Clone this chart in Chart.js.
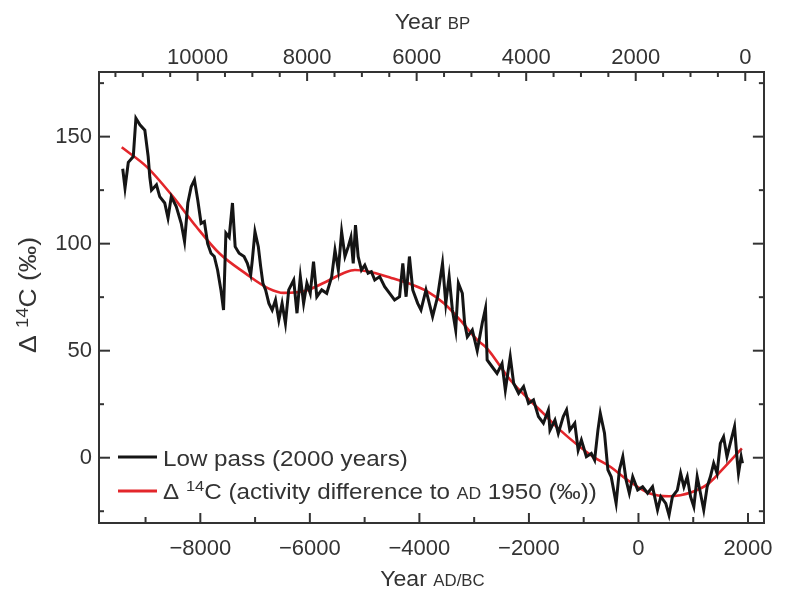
<!DOCTYPE html>
<html><head><meta charset="utf-8">
<script src="https://cdn.jsdelivr.net/npm/chart.js@4.4.1/dist/chart.umd.min.js"></script>
<style>html,body{margin:0;padding:0;background:#fff;}#wrap{width:786px;height:591px;position:relative;}</style>
</head><body><div id="wrap"><canvas id="c" width="786" height="591"></canvas></div>
<script>
// ---- data ----
const lowPassYears = [-9417,-9375,-9315,-9224,-9176,-9103,-9013,-8952,-8922,-8891,-8801,-8741,-8650,-8590,-8530,-8439,-8349,-8288,-8228,-8167,-8107,-8047,-7986,-7926,-7866,-7805,-7745,-7685,-7624,-7576,-7533,-7473,-7413,-7364,-7292,-7201,-7141,-7080,-7050,-7002,-6941,-6898,-6857,-6808,-6748,-6688,-6627,-6567,-6507,-6446,-6386,-6295,-6235,-6174,-6114,-6054,-5993,-5933,-5873,-5783,-5692,-5601,-5541,-5480,-5420,-5359,-5299,-5250,-5208,-5167,-5118,-5058,-4997,-4937,-4877,-4815,-4725,-4634,-4543,-4453,-4362,-4303,-4243,-4182,-4121,-4031,-3971,-3880,-3759,-3668,-3578,-3518,-3457,-3397,-3337,-3288,-3216,-3174,-3125,-3034,-2944,-2853,-2793,-2763,-2672,-2582,-2491,-2431,-2341,-2279,-2188,-2098,-2007,-1917,-1826,-1736,-1645,-1616,-1525,-1464,-1373,-1313,-1254,-1163,-1101,-1042,-951,-861,-801,-740,-697,-620,-558,-498,-408,-348,-286,-226,-167,-105,-14,76,167,257,348,408,498,558,620,710,770,830,891,951,1011,1072,1132,1192,1254,1313,1373,1435,1495,1554,1616,1676,1754,1797,1826,1875,1899];
const lowPassValues = [135,126,138,140.7,158.6,155.5,153,140.7,131,125,127.5,122,119,112,122,117.3,109.5,101,119,126.6,129.8,120.4,109.5,110.3,100,95.5,94,87.7,78.4,69,104.9,103,119,98.6,95.5,94,90.8,85.4,92.4,105.6,98.6,89.3,81.5,78.4,72.1,69,73.7,64.3,72.1,62.8,78.4,83,67.5,84.6,72.1,81.5,76.8,91.6,75.2,78.4,76.8,84.6,97,87.7,105.6,94,98.6,103,90.8,108.7,94,87.7,90,86.2,86.9,83,84.6,79.9,76.8,73.7,75.2,90.8,75.2,94,78.4,72.1,69,78.4,65.9,75.2,90.8,72.1,84.6,69,59.7,81.5,76.8,62.8,56.5,59.7,50,62.8,69.8,45.7,42.5,39.4,44,31.6,47.2,34.8,30.1,33.2,25.4,27,19.2,16.1,22.3,12.9,17.6,11.4,19.2,22.3,12.9,16.1,3.6,8.3,0.5,2,-1.1,12.9,20.7,11.4,-5.7,-8.9,-21.3,-5.7,0.5,-10.4,-16.6,-8.9,-15.1,-13.6,-16.6,-13.6,-24.4,-18.2,-21.3,-26.8,-18.2,-15.1,-7.3,-13.6,-8.9,-18.2,-22.9,-8.9,-16.6,-24.4,-13.6,-8.9,-2.6,-7.3,6.7,9.8,0.5,6.7,14.5,0.5,-7.3,0.5,-2.6];
const smoothYears = [-9435,-8982,-8500,-8076,-7654,-7170,-6748,-6476,-6083,-5721,-5359,-5177,-4937,-4514,-4152,-3850,-3547,-3246,-2944,-2763,-2341,-1736,-1435,-830,-529,-167,196,558,982,1283,1585,1888];
const smoothValues = [145,136,122,108,95.5,86,79,77,78,82,86.5,87.7,87,84,81,77.6,72,64,55,51,36.3,20.7,13,0.5,-4,-11,-16.6,-18,-16,-12,-4,4.4];
const seriesNames = ['Low pass (2000 years)', 'Δ 14C (activity difference to AD 1950 (‰))'];

const bottomTickLabels = [-8000,-6000,-4000,-2000,0,2000];
const bottomMinorTicks = [-9000,-7000,-5000,-3000,-1000,1000];
const topTickLabels = [10000,8000,6000,4000,2000,0];
const topMinorTicks = [11500,11000,10500,9500,9000,8500,7500,7000,6500,5500,5000,4500,3500,3000,2500,1500,1000,500];
const yTickLabels = [0,50,100,150];
const yMinorTicks = [-25,25,75,125,175];
const BP_REF = 1950;

// ---- style ----
const FAM = "'Liberation Sans', Arial, Helvetica, sans-serif";
const FS = 22;
const TXT = '#333';
const AX = '#333';
const X_MIN = -9850, X_MAX = 2290, Y_MIN = -30.5, Y_MAX = 180.2;

function fmtSigned(v){ return v < 0 ? '\u2212' + Math.abs(v) : String(v); }

function drawRich(ctx, parts, x, y, align, sx){
  sx = sx || 1;
  let total = 0;
  parts.forEach(p => { ctx.font = p.size + 'px ' + FAM; p.w = ctx.measureText(p.t).width; total += p.w; });
  const start = align === 'center' ? x - total*sx/2 : x;
  ctx.save();
  ctx.translate(start, y);
  ctx.scale(sx, 1);
  let cx = 0;
  parts.forEach(p => { ctx.font = p.size + 'px ' + FAM; ctx.fillText(p.t, cx, p.dy || 0); cx += p.w; });
  ctx.restore();
}

const decor = {
  id: 'decor',
  afterDraw(chart){
    const {ctx, chartArea: a, scales} = chart;
    ctx.save();
    // inward tick marks
    ctx.strokeStyle = AX; ctx.lineWidth = 2;
    const mk = (scale, v, len, side) => {
      const p = scale.getPixelForValue(v);
      ctx.beginPath();
      if (side === 'bottom'){ ctx.moveTo(p, a.bottom); ctx.lineTo(p, a.bottom - len); }
      if (side === 'top'){ ctx.moveTo(p, a.top); ctx.lineTo(p, a.top + len); }
      if (side === 'left'){ ctx.moveTo(a.left, p); ctx.lineTo(a.left + len, p); }
      if (side === 'right'){ ctx.moveTo(a.right, p); ctx.lineTo(a.right - len, p); }
      ctx.stroke();
    };
    bottomTickLabels.forEach(v => mk(scales.x, v, 10, 'bottom'));
    bottomMinorTicks.forEach(v => mk(scales.x, v, 6, 'bottom'));
    topTickLabels.forEach(v => mk(scales.xTop, v, 9, 'top'));
    topMinorTicks.forEach(v => mk(scales.xTop, v, 5, 'top'));
    yTickLabels.forEach(v => { mk(scales.y, v, 11, 'left'); mk(scales.y, v, 11, 'right'); });
    yMinorTicks.forEach(v => { mk(scales.y, v, 5, 'left'); mk(scales.y, v, 5, 'right'); });

    // axis titles
    ctx.fillStyle = TXT; ctx.textBaseline = 'alphabetic';
    const cxm = (a.left + a.right)/2;
    drawRich(ctx, [{t:'Year ', size:FS}, {t:'BP', size:16}], cxm + 1, 29, 'center', 1.05);
    drawRich(ctx, [{t:'Year ', size:FS}, {t:'AD/BC', size:16}], cxm + 1, 586, 'center', 1.05);
    ctx.save();
    ctx.translate(36, 295);
    ctx.rotate(-Math.PI/2);
    drawRich(ctx, [{t:'\u0394 ', size:23}, {t:'14', size:16, dy:-8}, {t:'C (\u2030)', size:23}], 0, 0, 'center', 1.15);
    ctx.restore();

    // legend
    const ds = chart.data.datasets;
    const rows = [
      {y:457, base:466, color: ds[0].borderColor, parts:[{t:seriesNames[0], size:FS}]},
      {y:491, base:499, color: ds[1].borderColor, parts:[{t:'\u0394 ', size:FS}, {t:'14', size:15, dy:-8}, {t:'C (activity difference to ', size:FS}, {t:'AD', size:16}, {t:' 1950 (\u2030))', size:FS}]}
    ];
    rows.forEach(r => {
      ctx.strokeStyle = r.color; ctx.lineWidth = 3;
      ctx.beginPath(); ctx.moveTo(118, r.y); ctx.lineTo(157, r.y); ctx.stroke();
      ctx.fillStyle = TXT;
      drawRich(ctx, r.parts, 163, r.base, 'left', 1.1);
    });
    ctx.restore();
  }
};

Chart.defaults.font.family = FAM;
Chart.defaults.font.size = FS;
Chart.defaults.color = TXT;

const tickFont = {family: FAM, size: FS};
const hiddenGrid = {display: true, drawOnChartArea: false, drawTicks: false, tickLength: 0};
const border = {display: true, color: AX, width: 2};

new Chart(document.getElementById('c'), {
  type: 'line',
  data: {
    datasets: [
      {label: seriesNames[0], data: lowPassYears.map((x, i) => ({x, y: lowPassValues[i]})),
       borderColor: '#151515', borderWidth: 3, pointRadius: 0, tension: 0, xAxisID: 'x', yAxisID: 'y'},
      {label: seriesNames[1], data: smoothYears.map((x, i) => ({x, y: smoothValues[i]})),
       borderColor: '#e3262b', borderWidth: 2.6, pointRadius: 0, cubicInterpolationMode: 'monotone', xAxisID: 'x', yAxisID: 'y'}
    ]
  },
  options: {
    responsive: false, animation: false,
    layout: {padding: 0},
    plugins: {legend: {display: false}, tooltip: {enabled: false}, title: {display: false}},
    scales: {
      x: {type: 'linear', position: 'bottom', min: X_MIN, max: X_MAX,
          afterBuildTicks: s => { s.ticks = bottomTickLabels.map(v => ({value: v})); },
          ticks: {font: tickFont, color: TXT, padding: 13, maxRotation: 0, autoSkip: false, callback: v => fmtSigned(v)},
          grid: hiddenGrid, border: border,
          afterFit: s => { s.height = 68; }},
      xTop: {type: 'linear', position: 'top', reverse: true, min: BP_REF - X_MAX, max: BP_REF - X_MIN,
          afterBuildTicks: s => { s.ticks = topTickLabels.map(v => ({value: v})); },
          ticks: {font: tickFont, color: TXT, padding: 1, maxRotation: 0, autoSkip: false, callback: v => String(v)},
          grid: hiddenGrid, border: border,
          afterFit: s => { s.height = 72; }},
      y: {type: 'linear', position: 'left', min: Y_MIN, max: Y_MAX,
          afterBuildTicks: s => { s.ticks = yTickLabels.map(v => ({value: v})); },
          ticks: {font: tickFont, color: TXT, padding: 7, callback: v => String(v)},
          grid: hiddenGrid, border: border,
          afterFit: s => { s.width = 99; }},
      yRight: {type: 'linear', position: 'right', min: Y_MIN, max: Y_MAX,
          ticks: {display: false},
          grid: hiddenGrid, border: border,
          afterFit: s => { s.width = 17; }}
    }
  },
  plugins: [decor]
});
</script>
</body></html>
